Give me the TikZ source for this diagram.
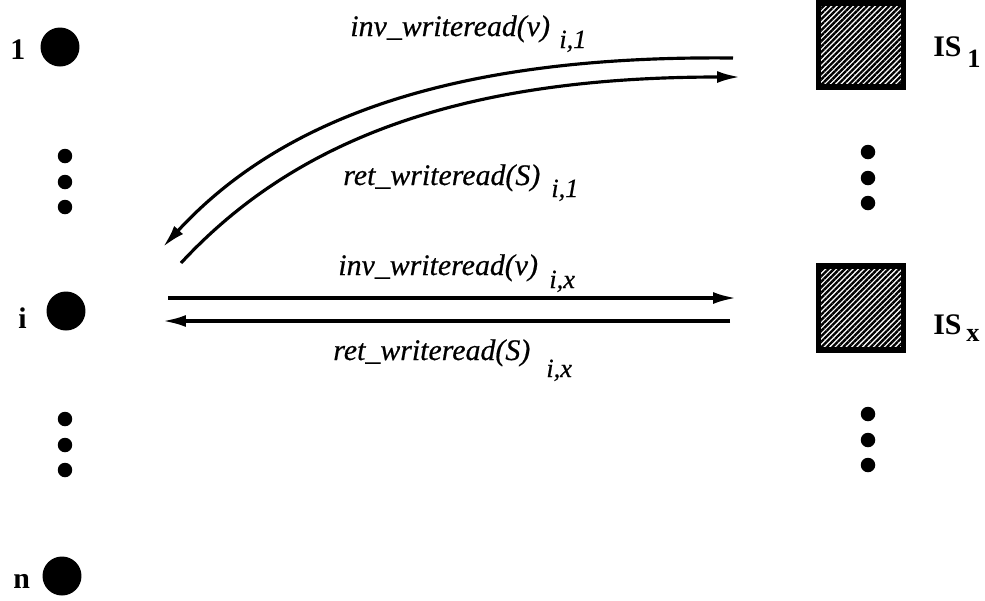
\documentclass[tikz,border=0pt]{standalone}
\usepackage{fontspec}
\setmainfont{Liberation Serif}
\newfontfamily\msgfont{Liberation Serif}[FakeBold=0.5]
\usetikzlibrary{arrows.meta,patterns.meta}

\begin{document}
\begin{tikzpicture}[x=0.02cm,y=-0.02cm,
  proc/.style={circle,fill=black,minimum size=0.78cm,inner sep=0pt},
  dot/.style={circle,fill=black,minimum size=0.29cm,inner sep=0pt},
  server/.style={draw=black,line width=3pt,minimum width=1.7cm,minimum height=1.68cm,inner sep=0pt,
    pattern={Lines[angle=45,distance=2.2pt,line width=1.35pt]}},
  conn/.style={line width=1.8pt,-{Latex[length=0.46cm,width=0.24cm]}},
  msg/.style={font=\fontsize{17}{20}\msgfont\itshape,inner sep=0pt,anchor=base west},
  idx/.style={font=\fontsize{15}{18}\msgfont\itshape,inner sep=0pt,anchor=base west},
  lbl/.style={font=\fontsize{17}{20}\selectfont\bfseries,inner sep=0pt,anchor=base west},
  sublbl/.style={font=\fontsize{15}{18}\selectfont\bfseries,inner sep=0pt,anchor=base west}]
\useasboundingbox (0,0) rectangle (985,600);

% processes
\node[proc] (p1) at (60,47) {};
\node[proc] (pi) at (66,311) {};
\node[proc] (pn) at (62,576) {};
\node[lbl] (l1) at (10,59) {1};
\node[lbl] (li) at (18,328) {i};
\node[lbl] (ln) at (13,588) {n};

\foreach \y in {156,182,207,419,445,470}{
    \node[dot] (ld\y) at (65,\y) {};
}

% servers
\node[server] (is1) at (861,45) {};
\node[server] (isx) at (861,308) {};
\node[lbl] (lis1) at (933,56) {IS};
\node[sublbl] (sis1) at (967,67) {1};
\node[lbl] (lisx) at (933,334) {IS};
\node[sublbl] (sisx) at (966,341) {x};

\foreach \y in {152,178,203,414,440,465}{
    \node[dot] (rd\y) at (868,\y) {};
}

% messages
\coordinate (a1) at (733,58);
\coordinate (a2) at (163,247);
\coordinate (b1) at (181,263);
\coordinate (b2) at (740,77);
\coordinate (c1) at (168,298);
\coordinate (c2) at (736,298);
\coordinate (d1) at (730,321);
\coordinate (d2) at (163,321);

\draw[conn] (a1) .. controls (450,55) and (280,120) .. (a2);
\draw[conn] (b1) .. controls (295,140) and (460,77) .. (b2);
\draw[conn] (c1) -- (c2);
\draw[conn] (d1) -- (d2);

\node[msg] (m1) at (350,36) {inv\_writeread(v)};
\node[idx] (s1) at (559,48) {i,1};
\node[msg] (m2) at (343,185) {ret\_writeread(S)};
\node[idx] (s2) at (551,197) {i,1};
\node[msg] (m3) at (338,275) {inv\_writeread(v)};
\node[idx] (s3) at (549,288) {i,x};
\node[msg] (m4) at (333,360) {ret\_writeread(S)};
\node[idx] (s4) at (546,377) {i,x};
\end{tikzpicture}
\end{document}
